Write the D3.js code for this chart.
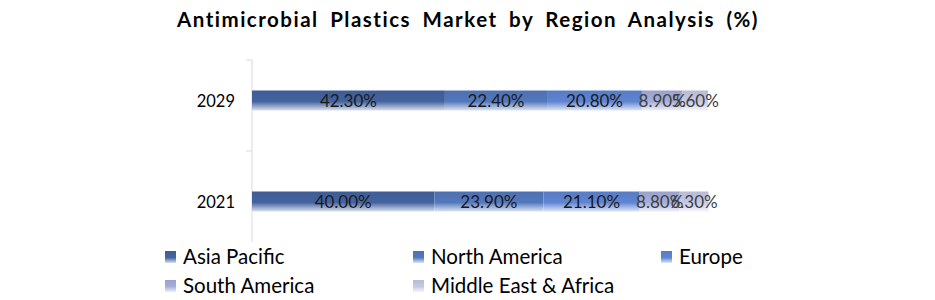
<!DOCTYPE html>
<html>
<head>
<meta charset="utf-8">
<script src="https://cdn.jsdelivr.net/npm/d3@7"></script>
<style>
  body { margin: 0; background: #fff; }
  text { font-family: Lato, "Open Sans", sans-serif; }
</style>
</head>
<body>
<svg id="chart" width="935" height="300"></svg>
<script>
const years = ["2029", "2021"];
const regions = ["Asia Pacific", "North America", "Europe", "South America", "Middle East & Africa"];
const values2029 = [42.3, 22.4, 20.8, 8.9, 5.6];
const values2021 = [40.0, 23.9, 21.1, 8.8, 6.3];
const colors = ["#44639f", "#5478bd", "#5e84d2", "#a5aedb", "#c6c9e4"];

const svg = d3.select("#chart");
const margin = {left: 252, right: 227, top: 50, bottom: 48};
const width = 935 - margin.left - margin.right;

const x = d3.scaleLinear().domain([0, 100]).range([margin.left, margin.left + width]);
const y = d3.scaleBand().domain(years).range([margin.top, 300 - margin.bottom]).paddingInner(0).paddingOuter(0);
const barH = 20;

// gradients, darker top fading to pale bottom
const defs = svg.append("defs");
colors.forEach((c, i) => {
  const g = defs.append("linearGradient")
    .attr("id", "grad" + i)
    .attr("x1", 0).attr("y1", 0).attr("x2", 0).attr("y2", 1);
  g.append("stop").attr("offset", "0%").attr("stop-color", d3.color(c).darker(0.2));
  g.append("stop").attr("offset", "55%").attr("stop-color", c);
  g.append("stop").attr("offset", "100%").attr("stop-color", d3.interpolateRgb(c, "#ffffff")(0.8));
});

svg.append("text")
  .attr("x", 468).attr("y", 27)
  .attr("text-anchor", "middle")
  .style("font-size", "20.5px").style("font-weight", "bold")
  .style("letter-spacing", "1.5px")
  .style("word-spacing", "5px")
  .attr("fill", "#000")
  .text("Antimicrobial Plastics Market by Region Analysis (%)");

// axis line + ticks
svg.append("line")
  .attr("x1", margin.left).attr("x2", margin.left)
  .attr("y1", 60).attr("y2", 242)
  .attr("stroke", "#d9d9d9");
[60, y("2021")].forEach(t => {
  svg.append("line")
    .attr("x1", margin.left - 6).attr("x2", margin.left)
    .attr("y1", t).attr("y2", t)
    .attr("stroke", "#d9d9d9");
});

const series = [values2029, values2021];
years.forEach((yr, j) => {
  const vals = series[j];
  const cy = y(yr) + y.bandwidth() / 2;
  let acc = 0;
  const g = svg.append("g");
  vals.forEach((v, i) => {
    g.append("rect")
      .attr("x", x(acc))
      .attr("y", cy - barH / 2)
      .attr("width", x(acc + v) - x(acc))
      .attr("height", barH)
      .attr("fill", "url(#grad" + i + ")");
    acc += v;
  });
  acc = 0;
  vals.forEach((v, i) => {
    g.append("text")
      .attr("x", (x(acc) + x(acc + v)) / 2)
      .attr("y", cy + 6)
      .attr("text-anchor", "middle")
      .style("font-size", "17px")
      .attr("fill", i >= 3 ? "#404040" : "#1a1a1a")
      .text(v.toFixed(2) + "%");
    acc += v;
  });
  svg.append("text")
    .attr("x", margin.left - 17)
    .attr("y", cy + 6)
    .attr("text-anchor", "end")
    .style("font-size", "16.5px")
    .attr("fill", "#000")
    .text(yr);
});

// legend
const legend = svg.append("g");
regions.forEach((r, i) => {
  const col = i % 3, row = Math.floor(i / 3);
  const lx = 165 + col * 248, ly = 257 + row * 29;
  legend.append("rect")
    .attr("x", lx).attr("y", ly - 6)
    .attr("width", 11).attr("height", 12)
    .attr("fill", "url(#grad" + i + ")");
  legend.append("text")
    .attr("x", lx + 18).attr("y", ly + 7)
    .style("font-size", "20.5px")
    .attr("fill", "#000")
    .text(r);
});
</script>
</body>
</html>
